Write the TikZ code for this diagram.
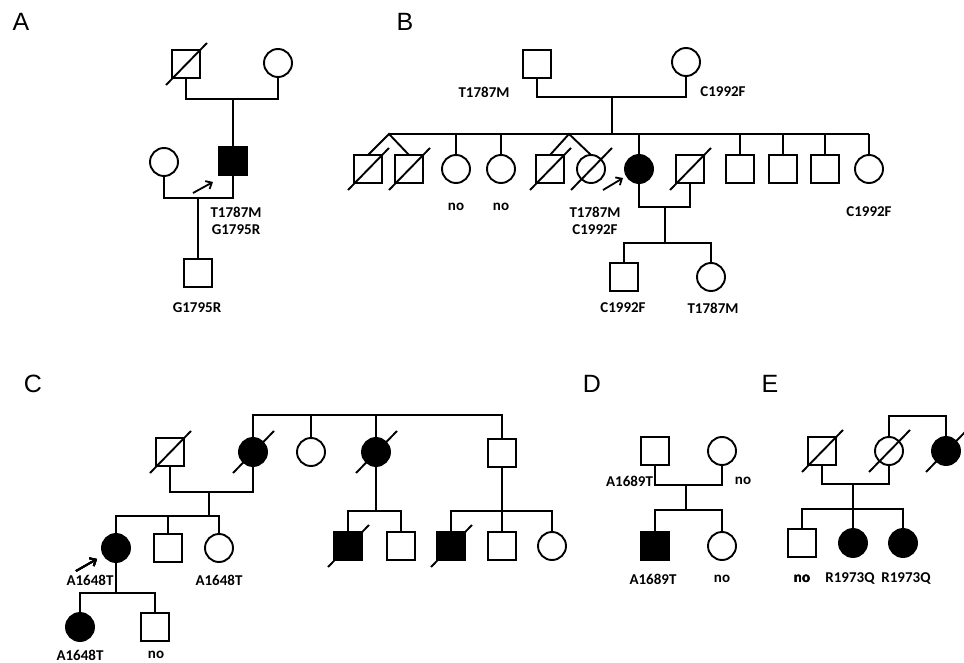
\documentclass[tikz,border=0pt]{standalone}
\usepackage{fontspec}
\setmainfont{Carlito}
\newfontfamily\letterfont{Liberation Sans}
\usetikzlibrary{arrows.meta}
\newcommand\deadslash[1]{\draw ([shift={(-20,21)}]#1.center) -- ([shift={(21,-21)}]#1.center);}
\begin{document}
\begin{tikzpicture}[x=1pt,y=-1pt,line width=1.9pt,
  every node/.style={inner sep=0pt,outer sep=0pt},
  male/.style={draw,rectangle,minimum size=28pt,fill=white},
  female/.style={draw,circle,minimum size=28pt,fill=white},
  aff/.style={fill=black},
  lab/.style={font=\bfseries\fontsize{15}{17}\selectfont,align=center},
  panel/.style={font=\letterfont\fontsize{25}{28}\selectfont},
  proband/.style={-{Straight Barb[length=5pt,width=9pt]},line width=1.8pt}]
\useasboundingbox (0,0) rectangle (964,663);
% A
\node[panel] (pA) at (21,22) {A};
\node[male] (a1) at (186,64) {};
\node[female] (a2) at (278,63) {};
\node[male,aff] (a3) at (233,161) {};
\node[female] (a4) at (164,162) {};
\node[male] (a5) at (198,273) {};
\coordinate (ma1) at (233,99);
\coordinate (ma2) at (198,198);
\draw (a1.south) |- (ma1) -| (a2.south);
\draw (ma1) -- (a3.north);
\draw (a4.south) |- (ma2) -| (a3.south);
\draw (ma2) -- (a5.north);
\deadslash{a1}
\draw[proband] ([shift={(-40,32)}]a3.center) -- ([shift={(-20,21)}]a3.center);
\node[lab] (la3) at (236,221) {T1787M\\G1795R};
\node[lab] (la5) at (197,308) {G1795R};
% B
\node[panel] (pB) at (405,22) {B};
\node[male] (b1) at (537,64) {};
\node[female] (b2) at (686,62) {};
\coordinate (mb1) at (612,97);
\coordinate (sbl) at (389,134);
\coordinate (sbm) at (612,134);
\coordinate (sbr) at (869,134);
\coordinate (tw2) at (569,134);
\draw (b1.south) |- (mb1) -| (b2.south);
\draw (mb1) -- (sbm);
\node[male] (b3) at (368,169) {};
\node[male] (b4) at (409,169) {};
\node[female] (b5) at (456,169) {};
\node[female] (b6) at (501,169) {};
\node[male] (b7) at (550,169) {};
\node[female] (b8) at (591,169) {};
\node[female,aff] (b9) at (639,169) {};
\node[male] (b10) at (690,169) {};
\node[male] (b11) at (740,169) {};
\node[male] (b12) at (783,169) {};
\node[male] (b13) at (825,169) {};
\node[female] (b14) at (869,169) {};
\draw (sbl) -- (sbr);
\draw (b3.north) -- (sbl) -- (b4.north);
\draw (b7.north) -- (tw2) -- (b8.north);
\foreach \n in {b5,b6,b9,b11,b12,b13,b14}
  \draw (\n.north) -- (\n.north |- sbl);
\foreach \n in {b3,b4,b7,b8,b10}
  \deadslash{\n}
\coordinate (mb2) at (665,207);
\coordinate (sb2) at (665,243);
\draw (b9.south) |- (mb2) -| (b10.south);
\draw (mb2) -- (sb2);
\node[male] (b15) at (624,277) {};
\node[female] (b16) at (711,277) {};
\draw (b15.north) |- (sb2) -| (b16.north);
\draw[proband] ([shift={(-36,21)}]b9.center) -- ([shift={(-16,9)}]b9.center);
\node[lab] (lb1) at (484,92) {T1787M};
\node[lab] (lb2) at (723,92) {C1992F};
\node[lab] (lb5) at (456,207) {no};
\node[lab] (lb6) at (501,207) {no};
\node[lab] (lb9) at (595,220.5) {T1787M\\C1992F};
\node[lab] (lb14) at (869,212) {C1992F};
\node[lab] (lb15) at (623,308) {C1992F};
\node[lab] (lb16) at (713,308) {T1787M};
% C
\node[panel] (pC) at (33,384) {C};
\coordinate (sc1l) at (253,415);
\coordinate (sc1r) at (502,415);
\node[male] (c1) at (170,452) {};
\node[female,aff] (c2) at (253,452) {};
\node[female] (c3) at (311,452) {};
\node[female,aff] (c4) at (376,452) {};
\node[male] (c5) at (502,453) {};
\draw (c2.north) -- (sc1l) -- (sc1r) -- (c5.north);
\foreach \n in {c3,c4}
  \draw (\n.north) -- (\n.north |- sc1l);
\coordinate (mc1) at (209,492);
\coordinate (sc2) at (209,516);
\draw (c1.south) |- (mc1) -| (c2.south);
\draw (mc1) -- (sc2);
\node[female,aff] (c6) at (116,548) {};
\node[male] (c7) at (168,548) {};
\node[female] (c8) at (219,548) {};
\draw (c6.north) |- (sc2) -| (c8.north);
\draw (c7.north) -- (c7.north |- sc2);
\coordinate (sc3) at (116,593);
\draw (c6.south) -- (sc3);
\node[female,aff] (c9) at (80,627) {};
\node[male] (c10) at (155,627) {};
\draw (c9.north) |- (sc3) -| (c10.north);
\coordinate (sc4) at (376,511);
\draw (c4.south) -- (sc4);
\node[male,aff] (c11) at (348,546) {};
\node[male] (c12) at (401,546) {};
\draw (c11.north) |- (sc4) -| (c12.north);
\coordinate (sc5) at (502,511);
\draw (c5.south) -- (sc5);
\node[male,aff] (c13) at (451,546) {};
\node[male] (c14) at (502,546) {};
\node[female] (c15) at (552,546) {};
\draw (c13.north) |- (sc5) -| (c15.north);
\draw (c14.north) -- (sc5);
\foreach \n in {c1,c2,c4,c11,c13}
  \deadslash{\n}
\draw[proband] ([shift={(-40,23)}]c6.center) -- ([shift={(-19,11)}]c6.center);
\node[lab] (lc6) at (90,580) {A1648T};
\node[lab] (lc8) at (219,580) {A1648T};
\node[lab] (lc9) at (80,655) {A1648T};
\node[lab] (lc10) at (156,655) {no};
% D
\node[panel] (pD) at (592,384) {D};
\node[male] (d1) at (655,451) {};
\node[female] (d2) at (722,451) {};
\coordinate (md1) at (686,485);
\coordinate (sd1) at (686,510);
\draw (d1.south) |- (md1) -| (d2.south);
\draw (md1) -- (sd1);
\node[male,aff] (d3) at (655,546) {};
\node[female] (d4) at (722,546) {};
\draw (d3.north) |- (sd1) -| (d4.north);
\node[lab,anchor=east] (ld1) at (653,481) {A1689T};
\node[lab] (ld2) at (743,481) {no};
\node[lab] (ld3) at (653,579) {A1689T};
\node[lab] (ld4) at (722,579) {no};
% E
\node[panel] (pE) at (770,384) {E};
\node[male] (e1) at (822,451) {};
\node[female] (e2) at (889,451) {};
\node[female,aff] (e3) at (946,451) {};
\coordinate (se0l) at (889,416);
\coordinate (se0r) at (946,416);
\draw (e2.north) -- (se0l) -- (se0r) -- (e3.north);
\coordinate (me1) at (853,484);
\coordinate (se1) at (853,509);
\draw (e1.south) |- (me1) -| (e2.south);
\draw (me1) -- (se1);
\node[male] (e4) at (802,543) {};
\node[female,aff] (e5) at (853,543) {};
\node[female,aff] (e6) at (903,543) {};
\draw (e4.north) |- (se1) -| (e6.north);
\draw (e5.north) -- (se1);
\foreach \n in {e1,e2,e3}
  \deadslash{\n}
\node[lab] (le4) at (802,579) {no};
\node[lab] (le5) at (850,579) {R1973Q};
\node[lab] (le6) at (906,579) {R1973Q};
\end{tikzpicture}
\end{document}
